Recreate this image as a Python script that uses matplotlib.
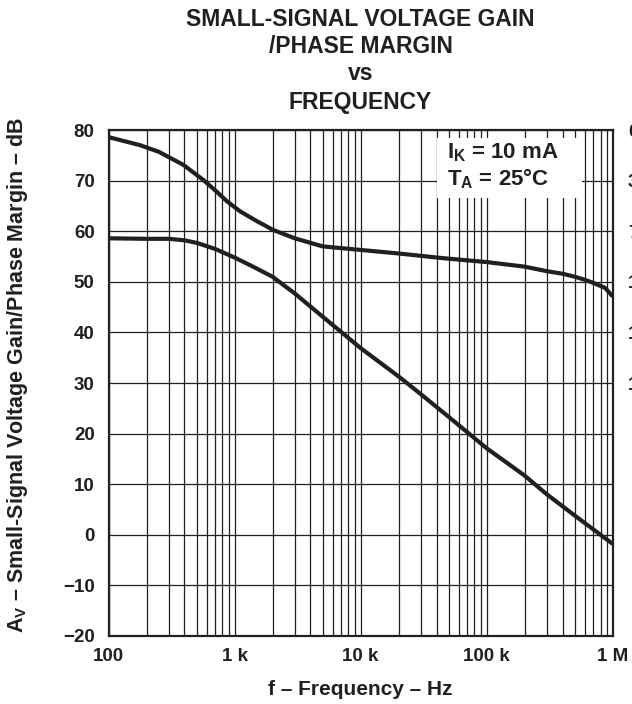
import numpy as np
import matplotlib.pyplot as plt
from matplotlib.patches import Rectangle
from matplotlib.ticker import FixedLocator, NullFormatter

plt.rcParams['font.family'] = ['Liberation Sans', 'DejaVu Sans']
plt.rcParams['font.weight'] = 'bold'
plt.rcParams['mathtext.fontset'] = 'custom'
plt.rcParams['mathtext.rm'] = 'Liberation Sans:bold'
plt.rcParams['mathtext.bf'] = 'Liberation Sans:bold'

# upper curve
f_up = [100, 178, 250, 393, 566, 700, 871, 1110, 1500, 1810, 2000, 3000, 5000, 10000,
        20000, 44000, 100000, 200000, 300000, 400000, 500000, 600000, 700000, 870000, 1000000]
db_up = [78.6, 77.0, 75.7, 73.1, 70.1, 68.1, 65.9, 63.9, 62.0, 60.9, 60.3, 58.6, 57.0, 56.3,
         55.6, 54.7, 53.9, 53.0, 52.1, 51.6, 51.0, 50.4, 49.8, 48.8, 47.1]

# lower curve
f_lo = [100, 200, 300, 400, 500, 700, 1000, 1400, 2000, 3000, 5000, 7000, 10000,
        20000, 30000, 50000, 100000, 200000, 300000, 500000, 1000000]
db_lo = [58.6, 58.5, 58.5, 58.2, 57.7, 56.5, 54.8, 53.0, 51.0, 47.7, 43.1, 40.1, 36.9,
         31.3, 27.8, 23.3, 17.1, 11.7, 8.0, 3.8, -1.8]

xticks = [100, 1000, 10000, 100000, 1000000]
xlabels = ['100', '1 k', '10 k', '100 k', '1 M']
yticks = list(range(-20, 81, 10))
ylabels = ['\u221220', '\u221210', '0', '10', '20', '30', '40', '50', '60', '70', '80']
rticks = [80, 70, 60, 50, 40, 30]
rlabels = ['0', '36', '72', '108', '144', '180']

ink = '#231f20'

fig = plt.figure(figsize=(6.32, 7.04), dpi=100)
ax = fig.add_axes([0.1718, 0.0966, 0.7977, 0.7187])

ax.set_xscale('log')
ax.set_xlim(100, 1e6)
ax.set_ylim(-20, 80)

minors = [m * 10**e for e in range(2, 6) for m in range(2, 10)]
ax.xaxis.set_major_locator(FixedLocator(xticks))
ax.xaxis.set_minor_locator(FixedLocator(minors))
ax.xaxis.set_minor_formatter(NullFormatter())
ax.set_xticks(xticks, xlabels)
ax.set_yticks(yticks, ylabels)
ax.tick_params(which='both', length=0, labelsize=13.5, colors=ink)
ax.tick_params(axis='x', pad=9)
ax.tick_params(axis='y', pad=10)
ax.grid(True, which='both', color=ink, linewidth=0.9)
for s in ax.spines.values():
    s.set_linewidth(1.6)
    s.set_color(ink)

ax.plot(f_up, db_up, color=ink, linewidth=3.0, solid_capstyle='butt', zorder=5)
ax.plot(f_lo, db_lo, color=ink, linewidth=3.0, solid_capstyle='butt', zorder=5)

ax2 = ax.twinx()
ax2.set_ylim(-20, 80)
ax2.set_yticks(rticks, rlabels)
ax2.tick_params(length=0, labelsize=13.5, pad=11, colors=ink)
for s in ax2.spines.values():
    s.set_visible(False)

# white box behind the condition note
ax.add_patch(Rectangle((0.651, 0.866), 0.288, 0.118, transform=ax.transAxes,
                       facecolor='white', edgecolor='none', zorder=3))
ax.text(0.671, 0.9447, 'I$_{\\mathrm{K}}$ = 10 mA', transform=ax.transAxes,
        fontsize=16, fontweight='bold', color=ink, va='baseline', ha='left', zorder=4)
ax.text(0.671, 0.891, 'T$_{\\mathrm{A}}$ = 25\u00b0C', transform=ax.transAxes,
        fontsize=16, fontweight='bold', color=ink, va='baseline', ha='left', zorder=4)

title_lines = ['SMALL-SIGNAL VOLTAGE GAIN', '/PHASE MARGIN', 'vs', 'FREQUENCY']
title_y = [0.963, 0.925, 0.887, 0.845]
for line, yy in zip(title_lines, title_y):
    fig.text(0.5706, yy, line, ha='center', va='baseline',
             fontsize=16.5, fontweight='bold', color=ink)

fig.text(0.5706, 0.020, 'f \u2013 Frequency \u2013 Hz', ha='center', va='center',
         fontsize=15, fontweight='bold', color=ink)
fig.text(0.027, 0.468, 'A$_{\\mathrm{V}}$ \u2013 Small-Signal Voltage Gain/Phase Margin \u2013 dB',
         ha='center', va='center', rotation=90, fontsize=15.5, fontweight='bold', color=ink)

fig.savefig('out.png', dpi=100)
